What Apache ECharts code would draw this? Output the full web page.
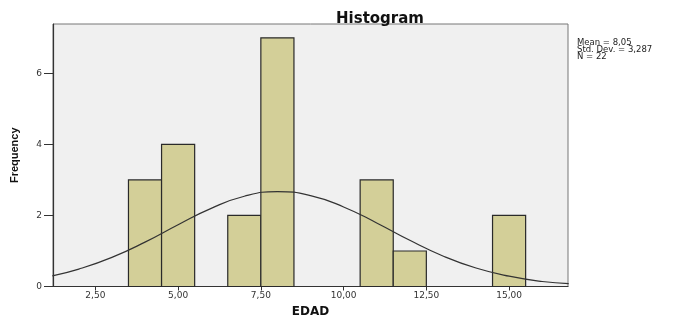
<!DOCTYPE html>
<html>
<head>
<meta charset="utf-8">
<script src="https://cdn.jsdelivr.net/npm/echarts@6/dist/echarts.min.js"></script>
<style>
html,body{margin:0;padding:0;background:#fff;}
#chart{width:678px;height:316px;}
</style>
</head>
<body>
<div id="chart"></div>
<script>
// Histogram bins: lower edge, upper edge, frequency
const binLow  = [3.5, 4.5, 6.5, 7.5, 10.5, 11.5, 14.5];
const binHigh = [4.5, 5.5, 7.5, 8.5, 11.5, 12.5, 15.5];
const freq    = [3, 4, 2, 7, 3, 1, 2];
// Normal curve points (x, frequency)
const curveX = [1.2, 2, 3, 4, 5, 6, 7, 8, 9, 10, 11, 12, 13, 14, 15, 16, 16.8];
const curveY = [0.30, 0.49, 0.82, 1.25, 1.74, 2.20, 2.54, 2.67, 2.56, 2.24, 1.79, 1.30, 0.86, 0.52, 0.29, 0.14, 0.08];
// Tick values
const xTicks = [2.5, 5, 7.5, 10, 12.5, 15];
const yTicks = [0, 2, 4, 6];
const statsLines = ['Mean = 8,05', 'Std. Dev. = 3,287', 'N = 22'];

const chart = echarts.init(document.getElementById('chart'), null, {renderer: 'canvas'});
const barData = binLow.map((lo, i) => [lo, binHigh[i], freq[i]]);
const curveData = curveX.map((x, i) => [x, curveY[i]]);

chart.setOption({
  animation: false,
  backgroundColor: '#ffffff',
  title: {
    text: 'Histogram',
    left: 375, top: 7, textAlign: 'center',
    textStyle: {fontFamily: 'DejaVu Sans', fontWeight: 'bold', fontSize: 15, color: '#111'}
  },
  graphic: [{
    type: 'text', left: 577, top: 38,
    style: {text: statsLines.join('\n'), fontFamily: 'DejaVu Sans', fontSize: 8.5, lineHeight: 7, fill: '#222'}
  }],
  grid: {
    left: 53, right: 110, top: 24, bottom: 29.5,
    outerBoundsMode: 'none', containLabel: false,
    show: true, backgroundColor: '#f0f0f0', borderColor: '#777', borderWidth: 1
  },
  xAxis: {
    type: 'value', min: 1.22, max: 16.78,
    name: 'EDAD', nameLocation: 'middle', nameGap: 17,
    nameTextStyle: {fontFamily: 'DejaVu Sans', fontWeight: 'bold', fontSize: 12, color: '#111'},
    axisLine: {show: true, lineStyle: {color: '#333', width: 1.2}},
    axisTick: {show: true, length: 4, customValues: xTicks, lineStyle: {color: '#333'}},
    axisLabel: {customValues: xTicks, margin: 5, fontFamily: 'DejaVu Sans', fontSize: 9, color: '#333',
      formatter: v => v.toFixed(2).replace('.', ',')},
    splitLine: {show: false}
  },
  yAxis: {
    type: 'value', min: 0, max: 7.39,
    name: 'Frequency', nameLocation: 'middle', nameGap: 33, nameRotate: 90,
    nameTextStyle: {fontFamily: 'Liberation Sans', fontWeight: 'bold', fontSize: 11, color: '#111'},
    axisLine: {show: true, lineStyle: {color: '#333', width: 1.2}},
    axisTick: {show: true, length: 9, customValues: yTicks, lineStyle: {color: '#333'}},
    axisLabel: {customValues: yTicks, margin: 11, fontFamily: 'DejaVu Sans', fontSize: 9, color: '#333'},
    splitLine: {show: false}
  },
  series: [
    {
      type: 'custom',
      data: barData,
      encode: {x: [0, 1], y: 2},
      z: 2,
      renderItem: function (params, api) {
        const lo = api.value(0), hi = api.value(1), c = api.value(2);
        const p1 = api.coord([lo, c]);
        const p2 = api.coord([hi, 0]);
        return {
          type: 'rect',
          shape: {x: p1[0], y: p1[1], width: p2[0] - p1[0], height: p2[1] - p1[1]},
          style: {fill: '#d3cf98', stroke: '#2a2a2a', lineWidth: 1.2}
        };
      }
    },
    {
      type: 'line',
      data: curveData,
      smooth: true,
      showSymbol: false,
      z: 3,
      lineStyle: {color: '#333', width: 1.2}
    }
  ]
});
</script>
</body>
</html>
